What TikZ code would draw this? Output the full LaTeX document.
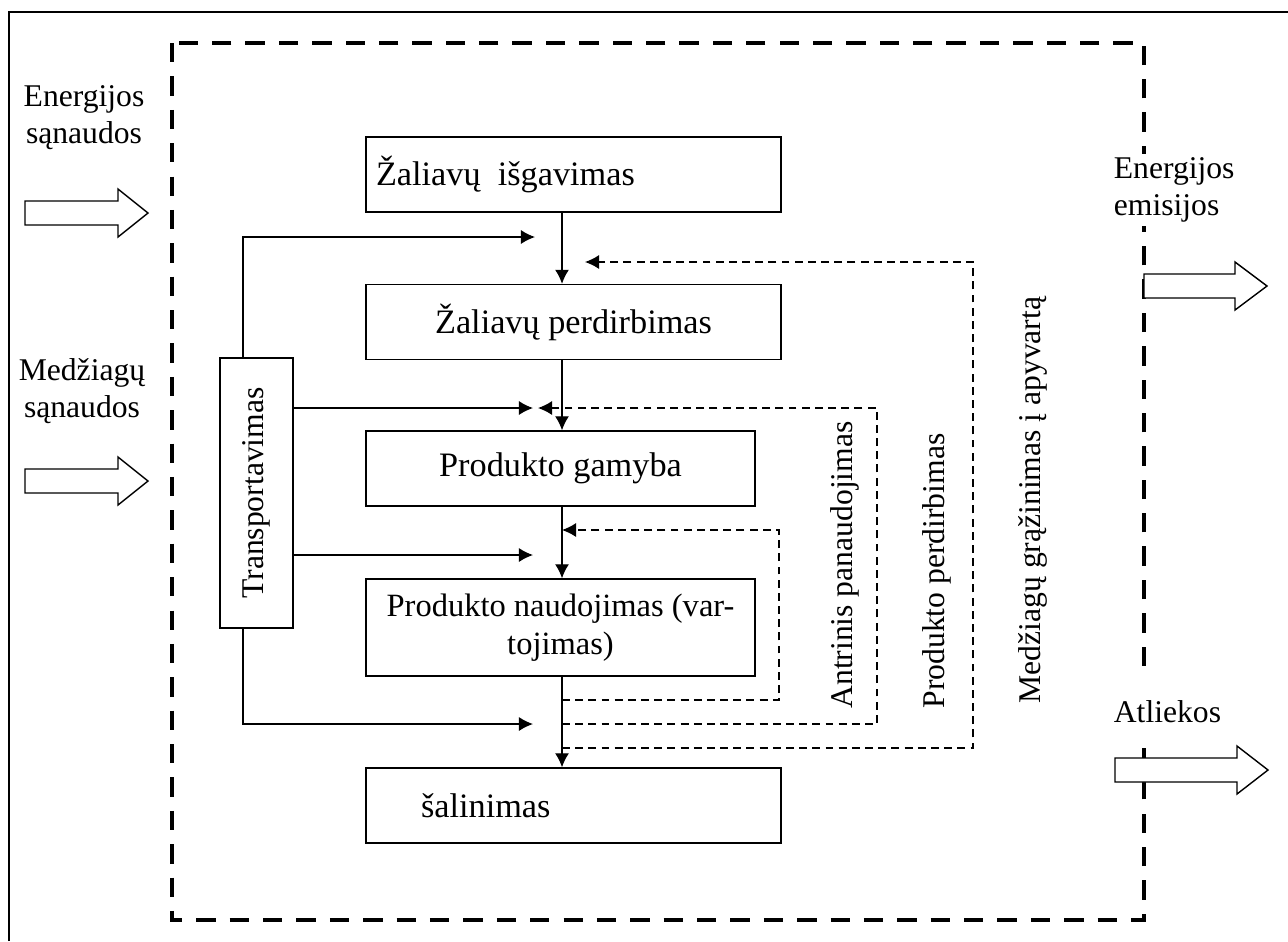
\documentclass[tikz,border=0pt]{standalone}
\usepackage{fontspec}
\setmainfont{Liberation Serif}
\usetikzlibrary{arrows.meta,calc}
\def\hollowarrow(#1,#2)(#3,#4){\draw[line width=0.8pt,fill=white] (#1,#2-12) -- (#3,#2-12) -- (#3,#2-24) -- (#4,#2) -- (#3,#2+24) -- (#3,#2+12) -- (#1,#2+12) -- cycle;}

\begin{document}
\begin{tikzpicture}[x=0.02cm, y=-0.02cm, font=\fontsize{18}{21}\selectfont,
	stage/.style={draw, line width=0.8pt, minimum width=8.3cm, minimum height=1.5cm, inner sep=0.2cm, font=\fontsize{19.5}{22}\selectfont},
	flow/.style={line width=0.8pt, -{Latex[length=8pt,width=8pt]}},
	ret/.style={line width=0.7pt, dash pattern=on 4.5pt off 3pt, -{Latex[length=8pt,width=8pt]}}]
	%%%%% START %%%%%
	\useasboundingbox (0,0) rectangle (1288,941);
	\draw[line width=0.9pt] (9,941) -- (9,12) -- (1288,12);
	\draw[line width=2.4pt, dash pattern=on 11pt off 8pt] (172,43) rectangle (1144,920);
	
	% life cycle stages
	\node[stage, text width=7.9cm, align=left] (izg) at (573.5,174.5) {Žaliavų\hspace{0.5em}išgavimas};
	\node[stage] (perd) at (573.5,322) {Žaliavų perdirbimas};
	\node[stage, minimum width=7.78cm] (gam) at (560.5,468.5) {Produkto gamyba};
	\node[stage, minimum width=7.78cm, minimum height=1.94cm, inner sep=0.1cm, align=center, font=\fontsize{18.5}{22}\selectfont] (naud) at (560.5,627.5) {Produkto naudojimas (var-\\tojimas)};
	\node[stage, text width=7.9cm, align=left] (sal) at (573.5,805.5) {\hspace*{0.9cm}šalinimas};
	\node[draw, line width=0.8pt, rotate=90, minimum width=5.4cm, minimum height=1.46cm] (trans) at (256.5,493) {Transportavimas};
	
	\coordinate (axis) at (562,0);
	\draw[flow] (izg.south -| axis) -- (perd.north -| axis);
	\draw[flow] (perd.south -| axis) -- (gam.north -| axis);
	\draw[flow] (gam.south -| axis) -- (naud.north -| axis);
	\draw[flow] (naud.south -| axis) -- (sal.north -| axis);
	
	% transport
	\coordinate (tleg) at (243,0);
	\coordinate (in1) at (535,237);
	\coordinate (in2) at (533,408);
	\coordinate (in3) at (533,555);
	\coordinate (in4) at (533,724);
	\draw[flow] (trans.east -| tleg) |- (in1);
	\draw[flow] (trans.south |- in2) -- (in2);
	\draw[flow] (trans.south |- in3) -- (in3);
	\draw[flow] (trans.west -| tleg) |- (in4);
	
	% return loops
	\coordinate (reuse out) at (562,700);
	\coordinate (reuse in) at (562,530);
	\coordinate (recyc out) at (562,724);
	\coordinate (recyc in) at (538,408);
	\coordinate (mat out) at (562,748);
	\coordinate (mat in) at (585,262);
	\draw[ret] (reuse out) -- ++(217,0) |- (reuse in);
	\draw[ret] (recyc out) -- ++(315,0) |- (recyc in);
	\draw[ret] (mat out) -- ++(411,0) |- (mat in);
	\node[rotate=90] (antr) at (845,565) {Antrinis panaudojimas};
	\node[rotate=90] (prodp) at (937,571) {Produkto perdirbimas};
	\node[rotate=90] (matgr) at (1033,500) {Medžiagų grąžinimas į apyvartą};
	
	% inputs and outputs
	\node[align=center] (ensan) at (84,118) {Energijos\\sąnaudos};
	\node[align=center] (medsan) at (82,391) {Medžiagų\\sąnaudos};
	\node[align=left, anchor=west, fill=white, inner sep=2pt] (enem) at (1110,190) {Energijos\\emisijos};
	\node[anchor=west, fill=white, inner xsep=2pt, inner ysep=14pt] (atl) at (1110,712) {Atliekos};
	\hollowarrow(25,213)(118,148)
	\hollowarrow(25,481)(118,148)
	\hollowarrow(1144,286)(1235,1267)
	\hollowarrow(1115,770)(1237,1268)
	%%%%% END %%%%%
\end{tikzpicture}
\end{document}
